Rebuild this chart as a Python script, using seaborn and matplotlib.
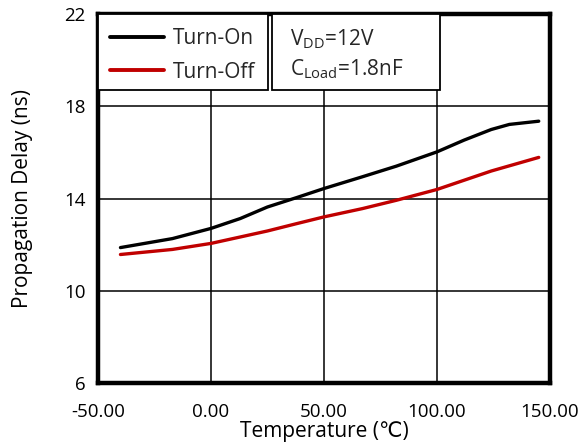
import matplotlib
matplotlib.use("Agg")
import matplotlib.pyplot as plt
import seaborn as sns
import pandas as pd
from matplotlib.patches import Rectangle
from matplotlib.lines import Line2D

temp_on = [-40, -17, 0, 13, 25, 38, 50, 67, 82, 100, 112, 124, 132, 145]
turn_on = [11.88, 12.27, 12.71, 13.14, 13.64, 14.05, 14.44, 14.95, 15.41, 16.03, 16.54, 17.0, 17.22, 17.36]
temp_off = [-40, -17, 0, 13, 25, 38, 50, 67, 82, 100, 112, 124, 145]
turn_off = [11.58, 11.80, 12.06, 12.34, 12.60, 12.92, 13.21, 13.57, 13.93, 14.40, 14.80, 15.20, 15.79]
series_names = ["Turn-On", "Turn-Off"]
x_ticks = [-50, 0, 50, 100, 150]
x_tick_labels = ["-50.00", "0.00", "50.00", "100.00", "150.00"]
y_ticks = [6, 10, 14, 18, 22]

sns.set_theme(style="white")
plt.rcParams['font.family'] = ['Open Sans', 'DejaVu Sans']

df = pd.DataFrame({
    "Temperature": temp_on + temp_off,
    "Delay": turn_on + turn_off,
    "Series": [series_names[0]] * len(temp_on) + [series_names[1]] * len(temp_off),
})

fig = plt.figure(figsize=(5.79, 4.43), dpi=100)
ax = fig.add_axes([0.169, 0.135, 0.781, 0.833])

sns.lineplot(data=df, x="Temperature", y="Delay", hue="Series",
             palette={"Turn-On": "black", "Turn-Off": "#c00000"},
             linewidth=2.4, ax=ax, legend=False, zorder=3)

ax.set_xlim(-50, 150)
ax.set_ylim(6, 22)
ax.set_xticks(x_ticks)
ax.set_xticklabels(x_tick_labels)
ax.set_yticks(y_ticks)
ax.grid(True, color="black", linewidth=1.1, zorder=0)
ax.set_axisbelow(True)
for s in ax.spines.values():
    s.set_color("black")
    s.set_linewidth(3.2)
ax.tick_params(axis="both", length=0, labelsize=13.5, colors="black")
ax.tick_params(axis="y", pad=9)
ax.tick_params(axis="x", pad=14)
ax.set_xlabel("Temperature (℃)", fontsize=15, labelpad=0, color="black")
ax.set_ylabel("Propagation Delay (ns)", fontsize=15, labelpad=22, color="black")

# legend box and parameter box
ax.add_patch(Rectangle((0, 0.795), 0.376, 0.205, transform=ax.transAxes,
                       facecolor="white", edgecolor="black", linewidth=1.3, zorder=4))
ax.add_patch(Rectangle((0.385, 0.795), 0.372, 0.205, transform=ax.transAxes,
                       facecolor="white", edgecolor="black", linewidth=1.3, zorder=4))

handles = [Line2D([], [], color="black", linewidth=2.8),
           Line2D([], [], color="#c00000", linewidth=2.8)]
leg = ax.legend(handles, series_names, loc="upper left", bbox_to_anchor=(0.008, 0.985),
                frameon=False, fontsize=15, handlelength=2.6, handletextpad=0.45,
                labelspacing=0.6, borderaxespad=0.0, borderpad=0.4)
leg.set_zorder(5)

ax.text(0.425, 0.932, "V$_{\\mathregular{DD}}$=12V", transform=ax.transAxes,
        fontsize=15, va="center", ha="left", zorder=6)
ax.text(0.425, 0.85, "C$_{\\mathregular{Load}}$=1.8nF", transform=ax.transAxes,
        fontsize=15, va="center", ha="left", zorder=6)

fig.savefig("out.png", dpi=100)
